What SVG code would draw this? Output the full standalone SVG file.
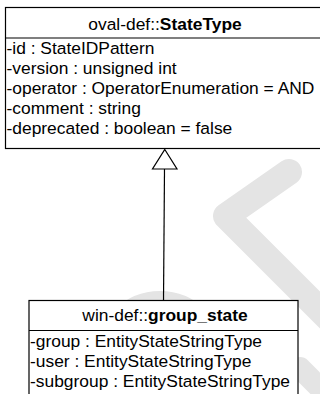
<svg xmlns="http://www.w3.org/2000/svg" width="320" height="394" viewBox="0 0 320 394">
<style>
.box{fill:#fff;stroke:#000;stroke-width:1.2}
.ln{fill:none;stroke:#000;stroke-width:1.2}
.t{font-family:"Liberation Sans",Arial,sans-serif;font-size:17.4px;fill:#000}
.h{text-anchor:middle}
.b{font-weight:bold}
.wm{fill:none;stroke:#e4e4e4;stroke-linecap:round;stroke-linejoin:round}
</style>
<rect width="320" height="394" fill="#fff"/>
<g id="watermark">
<path class="wm" d="M289,172 L226,216 L346,336" stroke-width="26"/>
<circle class="wm" cx="160" cy="356" r="58" stroke-width="14"/>
<path class="wm" d="M300,368 L340,408" stroke-width="22"/>
</g>
<g id="connectors">
<path class="ln" d="M164.5,169 L163.5,300.5"/>
<path d="M164.8,149.5 L177,169 L152.5,169 Z" fill="#fff" stroke="#000" stroke-width="1.2"/>
</g>
<g id="StateType">
<rect class="box" x="5.5" y="7.5" width="320" height="141"/>
<path class="ln" d="M5.5,38 H325.5"/>
<text class="t h" x="165" y="29.5">oval-def::<tspan class="b">StateType</tspan></text>
<text class="t" x="6.5" y="53.5">-id : StateIDPattern</text>
<text class="t" x="6.5" y="73.5">-version : unsigned int</text>
<text class="t" x="6.5" y="94">-operator : OperatorEnumeration = AND</text>
<text class="t" x="6.5" y="114">-comment : string</text>
<text class="t" x="6.5" y="134">-deprecated : boolean = false</text>
</g>
<g id="group_state">
<rect class="box" x="29" y="300.5" width="269" height="110"/>
<path class="ln" d="M29,330.5 H298"/>
<text class="t h" x="165" y="321">win-def::<tspan class="b">group_state</tspan></text>
<text class="t" x="30" y="346.5">-group : EntityStateStringType</text>
<text class="t" x="30" y="366.5">-user : EntityStateStringType</text>
<text class="t" x="30" y="386.5">-subgroup : EntityStateStringType</text>
</g>
</svg>
